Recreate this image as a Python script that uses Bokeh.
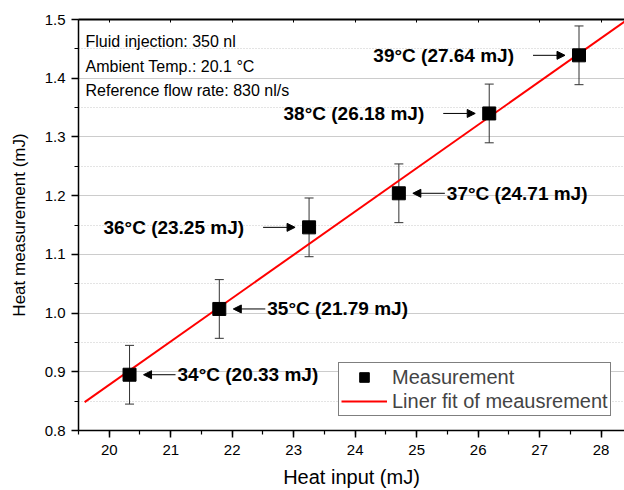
import numpy as np
from bokeh.plotting import figure
from bokeh.models import (ColumnDataSource, Range1d, LinearAxis, Whisker, TeeHead,
                          Arrow, NormalHead, Legend, LegendItem, SingleIntervalTicker,
                          CustomJSTickFormatter)
from bokeh.core.properties import value
from bokeh.embed import file_html
from bokeh.resources import INLINE

# ---- data ----
temps_c = [34, 35, 36, 37, 38, 39]
heat_input = [20.33, 21.79, 23.25, 24.71, 26.18, 27.64]
heat_measured = [0.895, 1.007, 1.146, 1.204, 1.340, 1.439]
error = [0.05, 0.05, 0.05, 0.05, 0.05, 0.05]
label_side = ["right", "right", "left", "right", "left", "left"]
fit_x_span = [19.6, 28.6]
info_lines = ["Fluid injection: 350 nl", "Ambient Temp.: 20.1 °C", "Reference flow rate: 830 nl/s"]

FONT = "Liberation Sans"
W, H = 624, 490
BL, BR, BT, BB = 78, 0, 19, 60
x0, x1 = 19.5, 28.38
y0, y1 = 0.8, 1.5
ppx = (W - BL - BR) / (x1 - x0)
ppy = (H - BT - BB) / (y1 - y0)

p = figure(width=W, height=H, output_backend="svg", toolbar_location=None,
           x_range=Range1d(x0, x1), y_range=Range1d(y0, y1),
           min_border_left=BL, min_border_right=BR, min_border_top=BT, min_border_bottom=BB)
p.outline_line_color = None
p.background_fill_color = "white"

# grids
p.xgrid.grid_line_color = None
p.ygrid.grid_line_color = "#cccccc"
p.ygrid.grid_line_width = 1
p.ygrid.minor_grid_line_color = "#c8c8c8"
p.ygrid.minor_grid_line_dash = "1 2"

# axes
for ax in (p.xaxis[0], p.yaxis[0]):
    ax.axis_line_width = 1.5
    ax.axis_line_color = "black"
    ax.major_tick_line_color = "black"
    ax.minor_tick_line_color = "black"
    ax.major_tick_line_width = 1.5
    ax.minor_tick_line_width = 1.2
    ax.major_tick_out = 7
    ax.major_tick_in = 0
    ax.minor_tick_out = 4
    ax.minor_tick_in = 0
    ax.major_label_text_font = FONT
    ax.major_label_text_font_size = "15px"
    ax.major_label_text_color = "black"
    ax.axis_label_text_font = FONT
    ax.axis_label_text_font_style = "normal"
    ax.axis_label_text_color = "black"

p.xaxis[0].ticker = SingleIntervalTicker(interval=1, num_minor_ticks=2)
p.yaxis[0].ticker = SingleIntervalTicker(interval=0.1, num_minor_ticks=2)
p.ygrid.ticker = p.yaxis[0].ticker
p.yaxis[0].formatter = CustomJSTickFormatter(code="return tick.toFixed(1);")
p.xaxis[0].axis_label = "Heat input (mJ)"
p.xaxis[0].axis_label_text_font_size = "20px"
p.xaxis[0].axis_label_standoff = 8
p.xaxis[0].major_label_standoff = 7
p.yaxis[0].axis_label = "Heat measurement (mJ)"
p.yaxis[0].axis_label_text_font_size = "17px"
p.yaxis[0].axis_label_standoff = 13
p.yaxis[0].major_label_standoff = 6

top = LinearAxis(ticker=SingleIntervalTicker(interval=1, num_minor_ticks=2),
                 axis_line_width=2.2, axis_line_color="black",
                 major_tick_in=3, major_tick_out=0, minor_tick_in=0, minor_tick_out=0,
                 major_label_text_font_size="0px", major_label_standoff=0,
                 major_label_text_alpha=0)
p.add_layout(top, "above")

# fit line (least squares from data)
slope, intercept = np.polyfit(heat_input, heat_measured, 1)
fx = np.array(fit_x_span)
fy = slope * fx + intercept
fit_r = p.line(fx, fy, line_color="#ff0000", line_width=2)

# error bars
src = ColumnDataSource(dict(
    x=heat_input, y=heat_measured,
    lo=[m - e for m, e in zip(heat_measured, error)],
    hi=[m + e for m, e in zip(heat_measured, error)],
))
wh = Whisker(source=src, base="x", lower="lo", upper="hi", dimension="height",
             line_color="#333333", line_width=1,
             upper_head=TeeHead(size=9, line_color="#333333", line_width=1),
             lower_head=TeeHead(size=9, line_color="#333333", line_width=1))
p.add_layout(wh)

pts = p.scatter("x", "y", source=src, marker="square", size=13,
                fill_color="black", line_color="black")

# annotations: labels and arrows
labels = [f"{t}°C ({h:.2f} mJ)" for t, h in zip(temps_c, heat_input)]
head_px, tail_px, text_px = 14, 46, 48
xs_start, xs_end, text_off, aligns = [], [], [], []
for hx, side in zip(heat_input, label_side):
    sgn = 1 if side == "right" else -1
    xs_start.append(hx + sgn * tail_px / ppx)
    xs_end.append(hx + sgn * head_px / ppx)
    text_off.append(text_px if side == "right" else -65)
    aligns.append("left" if side == "right" else "right")
asrc = ColumnDataSource(dict(xs=xs_start, xe=xs_end, y=heat_measured))
p.add_layout(Arrow(source=asrc, x_start="xs", y_start="y", x_end="xe", y_end="y",
                   line_color="black", line_width=1,
                   end=NormalHead(size=8, fill_color="black", line_color="black", line_width=1)))
p.text(x="x", y="y", text="txt", source=ColumnDataSource(dict(
    x=heat_input, y=heat_measured, txt=labels, off=text_off, al=aligns)),
    x_offset="off", text_align="al", text_baseline="middle",
    text_font=value(FONT), text_font_style="bold", text_font_size="19px",
    text_color="black")

# info text box
info_x = [x0 + 7 / ppx] * len(info_lines)
info_y = [y1 - (22 + 24.5 * i) / ppy for i in range(len(info_lines))]
p.text(x=info_x, y=info_y, text=info_lines, text_baseline="middle", text_align="left",
       text_font=value(FONT), text_font_size="16px", text_color="black")

# legend
legend = Legend(items=[LegendItem(label="Measurement", renderers=[pts]),
                       LegendItem(label="Liner fit of meausrement", renderers=[fit_r])],
                location=(260, 14), orientation="vertical",
                label_text_font=FONT, label_text_font_size="20px",
                label_height=24, glyph_height=24, glyph_width=46,
                label_standoff=5, padding=2, spacing=0, margin=0,
                border_line_color="black", border_line_width=1.2,
                background_fill_alpha=1)
p.add_layout(legend, "center")

open("out.html", "w").write(file_html(p, INLINE))
